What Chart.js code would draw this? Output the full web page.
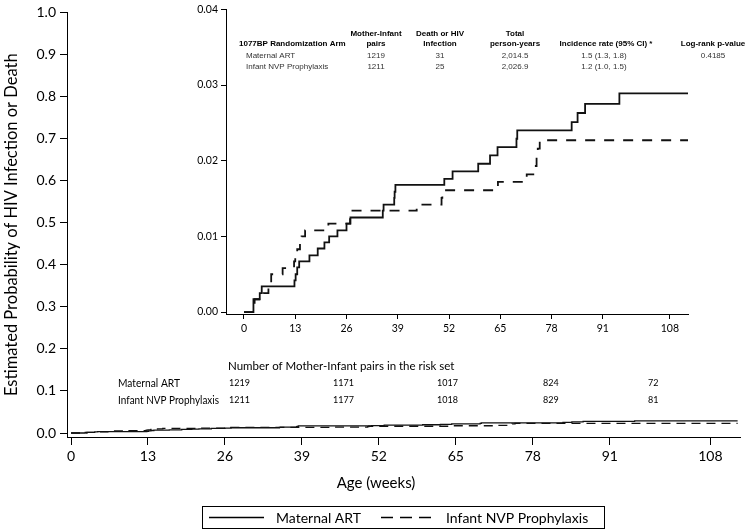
<!DOCTYPE html>
<html>
<head>
<meta charset="utf-8">
<script src="https://cdn.jsdelivr.net/npm/chart.js@4.4.1/dist/chart.umd.min.js"></script>
<style>
  html, body { margin: 0; padding: 0; background: #fff; }
  #wrap { position: relative; width: 750px; height: 531px; }
  #main { position: absolute; left: 0; top: 0; }
  #inset { position: absolute; left: 180px; top: 0; }
</style>
</head>
<body>
<div id="wrap">
  <canvas id="main" width="750" height="531"></canvas>
  <canvas id="inset" width="570" height="345"></canvas>
</div>
<script>
// Eixos
const WEEK_TICKS = [0, 13, 26, 39, 52, 65, 78, 91, 108];
const PROB_TICKS = [0, 0.1, 0.2, 0.3, 0.4, 0.5, 0.6, 0.7, 0.8, 0.9, 1.0];
const INSET_PROB_TICKS = [0, 0.01, 0.02, 0.03, 0.04];

// Curvas de Kaplan-Meier (semana do evento -> probabilidade acumulada)
const ART_WEEKS = [0, 2.4, 4.0, 4.5, 12.8, 13.1, 13.5, 14.0, 16.6, 18.7, 20.4, 21.6, 23.7, 26.0, 27.0,
  35.2, 35.4, 38.1, 38.2, 38.4, 50.8, 52.9, 59.4, 62.4, 64.3, 69.1, 69.3, 83.1, 84.6, 86.5, 95.2, 112.6];
const ART_PROB = [0, 0.0017, 0.0025, 0.0034, 0.0042, 0.0050, 0.0059, 0.0067, 0.0075, 0.0084, 0.0092, 0.0100, 0.0108, 0.0117, 0.0125,
  0.0134, 0.0142, 0.0151, 0.0159, 0.0168, 0.0176, 0.0186, 0.0196, 0.0207, 0.0218, 0.0229, 0.0240, 0.0251, 0.0263, 0.0275, 0.0289, 0.0289];

const NVP_WEEKS = [0, 2.7, 4.9, 6.2, 6.9, 9.8, 12.7, 13.0, 13.5, 14.2, 14.6, 15.5, 21.4, 26.9, 27.0,
  43.8, 50.1, 50.3, 64.4, 71.7, 74.0, 74.2, 74.5, 75.0, 112.6];
const NVP_PROB = [0, 0.0017, 0.0025, 0.0033, 0.0050, 0.0058, 0.0067, 0.0075, 0.0083, 0.0092, 0.0100, 0.0108, 0.0117, 0.0125, 0.0134,
  0.0142, 0.0151, 0.0161, 0.0172, 0.0182, 0.0193, 0.0204, 0.0216, 0.0227, 0.0227];

// Tabela de risco
const ARMS = ["Maternal ART", "Infant NVP Prophylaxis"];
const RISK_ART = [1219, 1171, 1017, 824, 72];
const RISK_NVP = [1211, 1177, 1018, 829, 81];

// Tabela do inset
const PAIRS = [1219, 1211];
const EVENTS = [31, 25];
const PERSON_YEARS = ["2,014.5", "2,026.9"];
const INCIDENCE = ["1.5 (1.3, 1.8)", "1.2 (1.0, 1.5)"];
const LOGRANK_P = "0.4185";

const FONT = "Lato, 'Open Sans', sans-serif";
const SMALL_FONT = "'Liberation Sans', Arial, sans-serif";
const INK = "#111";

const toPoints = (xs, ys) => xs.map((x, i) => ({ x, y: ys[i] }));
const fixTicks = (values) => (scale) => {
    scale.ticks = values.map((value) => ({ value }));
};

function series(label, xs, ys, width, dash) {
    return {
        label,
        data: toPoints(xs, ys),
        borderColor: INK,
        borderWidth: width,
        borderDash: dash,
        stepped: true,
        pointRadius: 0,
        fill: false,
    };
}

function axisStyle(fontSize, tickLength) {
    return {
        grid: { drawOnChartArea: false, drawTicks: true, tickLength, color: "#000", lineWidth: 1 },
        border: { display: true, color: "#000", width: 1 },
        ticks: { color: "#000", font: { family: FONT, size: fontSize }, autoSkip: false, maxRotation: 0, padding: 3 },
    };
}

// Texto do gráfico principal: tabela de risco, título do eixo x, legenda e tabela do inset.
const annotations = {
    id: "annotations",
    afterDraw(chart) {
        const ctx = chart.ctx;
        ctx.save();
        ctx.fillStyle = "#000";
        ctx.textBaseline = "middle";

        // Número em risco
        ctx.textAlign = "left";
        ctx.font = `11.5px ${FONT}`;
        ctx.fillText("Number of Mother-Infant pairs in the risk set", 228, 366);
        ctx.font = `11px ${FONT}`;
        // a fonte original é mais estreita: comprime para caber antes da 1ª coluna
        ctx.fillText(ARMS[0], 118, 383, 62);
        ctx.fillText(ARMS[1], 118, 400, 101);
        const cols = [229, 333, 437, 543, 648];
        ctx.font = `9px ${FONT}`;
        cols.forEach((x, i) => {
            ctx.fillText(String(RISK_ART[i]), x, 383);
            ctx.fillText(String(RISK_NVP[i]), x, 400);
        });

        // Título do eixo x (não centrado na área do gráfico)
        ctx.textAlign = "center";
        ctx.font = `15px ${FONT}`;
        ctx.fillText("Age (weeks)", 376, 483);

        // Legenda com moldura
        ctx.strokeStyle = "#000";
        ctx.lineWidth = 1;
        ctx.strokeRect(202.5, 506.5, 402, 22);
        ctx.lineWidth = 1.3;
        ctx.beginPath();
        ctx.moveTo(209, 517.5);
        ctx.lineTo(264, 517.5);
        ctx.stroke();
        ctx.setLineDash([12, 7]);
        ctx.beginPath();
        ctx.moveTo(381, 517.5);
        ctx.lineTo(431, 517.5);
        ctx.stroke();
        ctx.setLineDash([]);
        ctx.textAlign = "left";
        ctx.font = `14px ${FONT}`;
        ctx.fillText(ARMS[0], 276, 518);
        ctx.fillText(ARMS[1], 446, 518);

        // Tabela do inset
        ctx.font = `bold 8px ${SMALL_FONT}`;
        ctx.fillText("1077BP Randomization Arm", 239, 44);
        ctx.textAlign = "center";
        [[376, "Mother-Infant", "pairs"], [440, "Death or HIV", "Infection"], [515, "Total", "person-years"]]
            .forEach(([x, a, b]) => {
                ctx.fillText(a, x, 34);
                ctx.fillText(b, x, 44);
            });
        ctx.fillText("Incidence rate (95% CI) *", 606, 44);
        ctx.fillText("Log-rank p-value", 713, 44);

        ctx.font = `8px ${SMALL_FONT}`;
        ctx.fillStyle = "#333";
        [56, 67].forEach((y, i) => {
            ctx.textAlign = "left";
            ctx.fillText(ARMS[i], 246, y);
            ctx.textAlign = "center";
            ctx.fillText(String(PAIRS[i]), 376, y);
            ctx.fillText(String(EVENTS[i]), 440, y);
            ctx.fillText(PERSON_YEARS[i], 515, y);
            ctx.fillText(INCIDENCE[i], 604, y);
        });
        ctx.fillText(LOGRANK_P, 713, 56);
        ctx.restore();
    },
};

const mainAxisX = axisStyle(14, 8);
const mainAxisY = axisStyle(14, 7);

new Chart(document.getElementById("main"), {
    type: "line",
    data: {
        datasets: [
            series(ARMS[0], ART_WEEKS, ART_PROB, 1.3, []),
            series(ARMS[1], NVP_WEEKS, NVP_PROB, 1.3, [9, 6]),
        ],
    },
    options: {
        responsive: false,
        animation: false,
        layout: { padding: { top: 12, right: 10, left: 0, bottom: 0 } },
        plugins: { legend: { display: false }, tooltip: { enabled: false } },
        scales: {
            x: {
                ...mainAxisX,
                type: "linear",
                min: -0.68,
                max: 113,
                afterBuildTicks: fixTicks(WEEK_TICKS),
                afterFit: (s) => { s.height = 94; },
            },
            y: {
                ...mainAxisY,
                type: "linear",
                min: -0.0095,
                max: 1,
                afterBuildTicks: fixTicks(PROB_TICKS),
                afterFit: (s) => { s.width = 67; },
                ticks: { ...mainAxisY.ticks, padding: 4, callback: (v) => Number(v).toFixed(1) },
                title: {
                    display: true,
                    text: "Estimated Probability of HIV Infection or Death",
                    color: "#000",
                    font: { family: FONT, size: 16.5 },
                    padding: { top: 2, bottom: 0 },
                },
            },
        },
    },
    plugins: [annotations],
});

// Inset ampliado (0 a 0.04)
const insetX = axisStyle(10.5, 5);
const insetY = axisStyle(10.5, 5);

new Chart(document.getElementById("inset"), {
    type: "line",
    data: {
        datasets: [
            series(ARMS[0], ART_WEEKS, ART_PROB, 1.8, []),
            series(ARMS[1], NVP_WEEKS, NVP_PROB, 1.8, [10, 9]),
        ],
    },
    options: {
        responsive: false,
        animation: false,
        layout: { padding: { top: 6, right: 62, left: 0, bottom: 0 } },
        plugins: { legend: { display: false }, tooltip: { enabled: false } },
        scales: {
            x: {
                ...insetX,
                type: "linear",
                min: -4.56,
                max: 112.6,
                afterBuildTicks: fixTicks(WEEK_TICKS),
                afterFit: (s) => { s.height = 31; },
            },
            y: {
                ...insetY,
                type: "linear",
                min: -0.00025,
                max: 0.04,
                afterBuildTicks: fixTicks(INSET_PROB_TICKS),
                afterFit: (s) => { s.width = 46; },
                ticks: { ...insetY.ticks, callback: (v) => Number(v).toFixed(2) },
            },
        },
    },
});
</script>
</body>
</html>
